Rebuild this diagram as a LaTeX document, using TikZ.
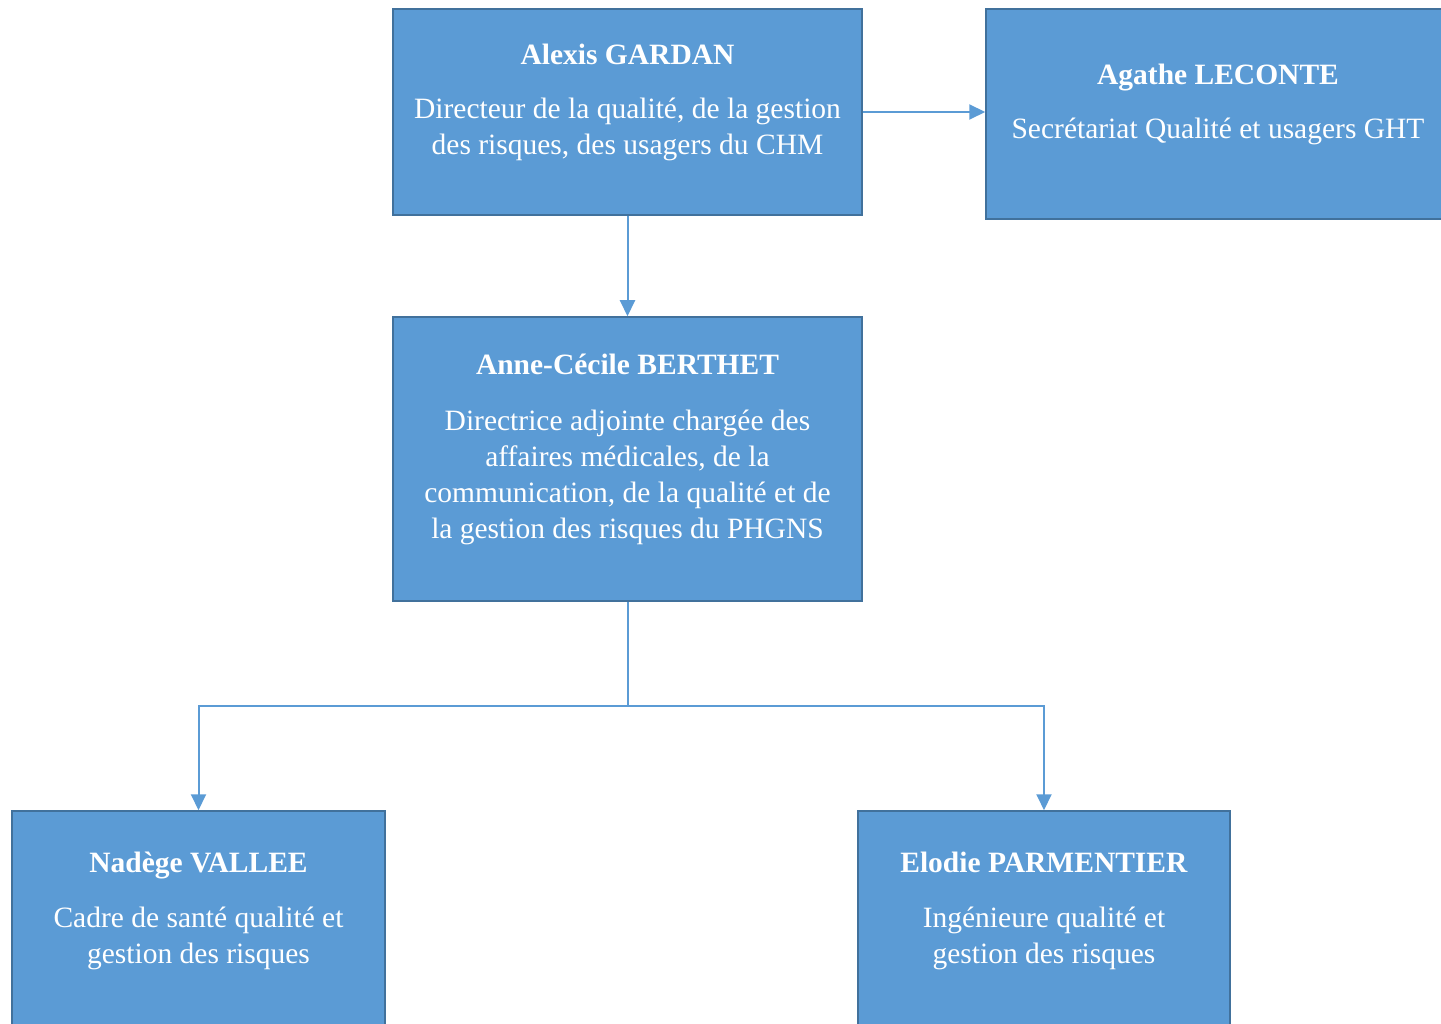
\documentclass[tikz,border=0pt]{standalone}
\usepackage{fontspec}
\setmainfont{Liberation Serif}
\usetikzlibrary{arrows.meta}
\definecolor{boxfill}{HTML}{5B9BD5}
\definecolor{boxedge}{HTML}{41719C}
\tikzset{
	orgbox/.style={draw=boxedge, line width=1.5pt, fill=boxfill, inner sep=0pt},
	orgtext/.style={anchor=north, inner sep=0pt, align=center, text=white, font=\fontsize{29.5}{36}\selectfont},
	link/.style={draw=boxfill, line width=2pt, -{Triangle[length=16pt,width=15pt]}},
}

\begin{document}
\begin{tikzpicture}[x=1pt, y=-1pt]

	\useasboundingbox (0,0) rectangle (1441,1024);
	\clip (0,0) rectangle (1441,1024);

	\node[orgbox, minimum width=469pt, minimum height=206pt] (gardan) at (627.5,112) {};
	\node[orgbox, minimum width=464pt, minimum height=210pt] (leconte) at (1218,114) {};
	\node[orgbox, minimum width=469pt, minimum height=284pt] (berthet) at (627.5,459) {};
	\node[orgbox, minimum width=373pt, minimum height=229pt] (vallee) at (198.5,925.5) {};
	\node[orgbox, minimum width=372pt, minimum height=229pt] (parmentier) at (1044,925.5) {};

	\node[orgtext] (gardan text) at ([yshift=-36pt]gardan.north)
		{\textbf{Alexis GARDAN}\\[18pt]Directeur de la qualité, de la gestion\\des risques, des usagers du CHM};
	\node[orgtext] (leconte text) at ([yshift=-56pt]leconte.north)
		{\textbf{Agathe LECONTE}\\[18pt]Secrétariat Qualité et usagers GHT};
	\node[orgtext] (berthet text) at ([yshift=-38pt]berthet.north)
		{\textbf{Anne-Cécile BERTHET}\\[20pt]Directrice adjointe chargée des\\affaires médicales, de la\\communication, de la qualité et de\\la gestion des risques du PHGNS};
	\node[orgtext] (vallee text) at ([yshift=-42pt]vallee.north)
		{\textbf{Nadège VALLEE}\\[19pt]Cadre de santé qualité et\\gestion des risques};
	\node[orgtext] (parmentier text) at ([yshift=-42pt]parmentier.north)
		{\textbf{Elodie PARMENTIER}\\[19pt]Ingénieure qualité et\\gestion des risques};

	\coordinate (fork) at (627.5,706);

	\draw[link] (gardan.east) -- (gardan.east -| leconte.west);
	\draw[link] (gardan.south) -- (berthet.north);
	\draw[link, -] (berthet.south) -- (fork);
	\foreach \j in {vallee, parmentier}
	{
		\draw[link] (fork) -| (\j.north);
	};
\end{tikzpicture}
\end{document}
